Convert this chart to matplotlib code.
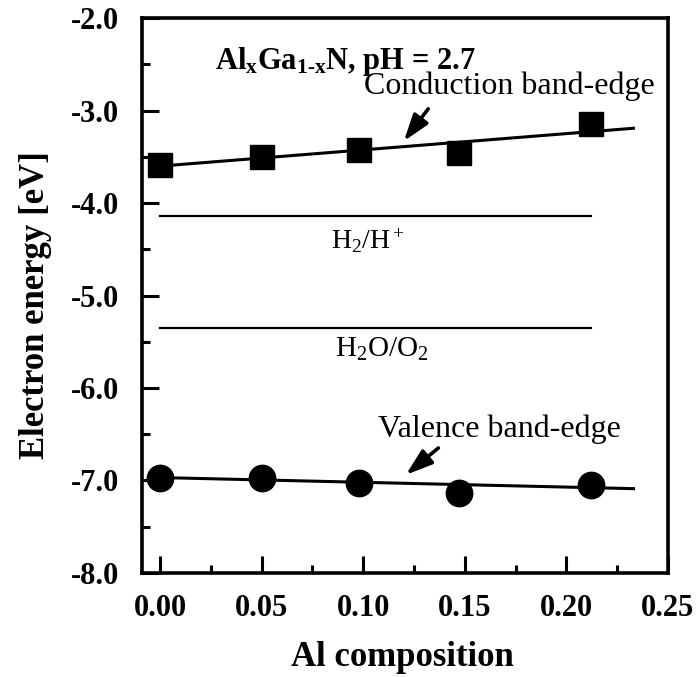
import numpy as np
import matplotlib
matplotlib.use("Agg")
import matplotlib.pyplot as plt
from matplotlib.ticker import MultipleLocator, FormatStrFormatter

plt.rcParams["font.family"] = ["Liberation Serif", "DejaVu Serif"]
plt.rcParams["mathtext.fontset"] = "custom"
plt.rcParams["mathtext.rm"] = "Liberation Serif"
plt.rcParams["mathtext.bf"] = "Liberation Serif:bold"
plt.rcParams["mathtext.it"] = "Liberation Serif:italic"
plt.rcParams["axes.unicode_minus"] = False

# data
al_x = [0.00, 0.05, 0.098, 0.147, 0.212]
cb_energy = [-3.59, -3.50, -3.43, -3.46, -3.14]
vb_energy = [-6.97, -6.98, -7.03, -7.14, -7.05]
cb_fit_x = [0.0, 0.233]
cb_fit_y = [-3.60, -3.19]
vb_fit_x = [0.0, 0.233]
vb_fit_y = [-6.97, -7.09]
redox_x = [0.0, 0.212]
h2_level = -4.14
o2_level = -5.35

fig = plt.figure(figsize=(6.98, 6.77), dpi=100)
ax = fig.add_axes([0.203, 0.154, 0.754, 0.819])

ax.plot(cb_fit_x, cb_fit_y, color="black", lw=2.2)
ax.plot(al_x, cb_energy, "s", color="black", ms=17, ls="none")
ax.plot(vb_fit_x, vb_fit_y, color="black", lw=2.2)
ax.plot(al_x, vb_energy, "o", color="black", ms=19, ls="none")
ax.plot(redox_x, [h2_level, h2_level], color="black", lw=1.6)
ax.plot(redox_x, [o2_level, o2_level], color="black", lw=1.6)

ax.text(0.091, -2.47, r"Al$_{\mathbf{x}}$Ga$_{\mathbf{1\text{-}x}}$N, pH = 2.7",
        fontsize=22, fontweight="bold", ha="center", va="center")
ax.text(0.172, -2.74, "Conduction band-edge", fontsize=23, ha="center", va="center")
ax.text(0.102, -4.41, r"H$_2$/H$^+$", fontsize=20, ha="center", va="center")
ax.text(0.109, -5.58, r"H$_2$O/O$_2$", fontsize=21, ha="center", va="center")
ax.text(0.167, -6.45, "Valence band-edge", fontsize=23, ha="center", va="center")

arrow_style = dict(arrowstyle="-|>,head_length=0.9,head_width=0.3", color="black",
                   lw=2.6, mutation_scale=18, shrinkA=0, shrinkB=0)
ax.annotate("", xy=(0.120, -3.33), xytext=(0.132, -2.98), arrowprops=arrow_style)
ax.annotate("", xy=(0.121, -6.94), xytext=(0.137, -6.65), arrowprops=arrow_style)

ax.set_xlim(-0.009, 0.25)
ax.set_ylim(-8.0, -2.0)
ax.xaxis.set_major_locator(MultipleLocator(0.05))
ax.xaxis.set_minor_locator(MultipleLocator(0.025))
ax.yaxis.set_major_locator(MultipleLocator(1.0))
ax.yaxis.set_minor_locator(MultipleLocator(0.5))
ax.xaxis.set_major_formatter(FormatStrFormatter("%.2f"))
ax.yaxis.set_major_formatter(FormatStrFormatter("%.1f"))

ax.tick_params(which="both", direction="in", top=False, right=False, width=2.2)
ax.tick_params(which="major", length=12, labelsize=22)
ax.tick_params(axis="y", which="major", pad=16)
ax.tick_params(axis="x", which="major", pad=15)
ax.tick_params(which="minor", length=6)
for lab in ax.get_xticklabels() + ax.get_yticklabels():
    lab.set_fontweight("bold")
for sp in ax.spines.values():
    sp.set_linewidth(2.6)

ax.set_xlabel("Al composition", fontsize=25, fontweight="bold")
ax.set_ylabel("Electron energy [eV]", fontsize=25, fontweight="bold")
ax.xaxis.set_label_coords(0.496, -0.124)
ax.yaxis.set_label_coords(-0.17, 0.483)

fig.savefig("out.png", dpi=100)
